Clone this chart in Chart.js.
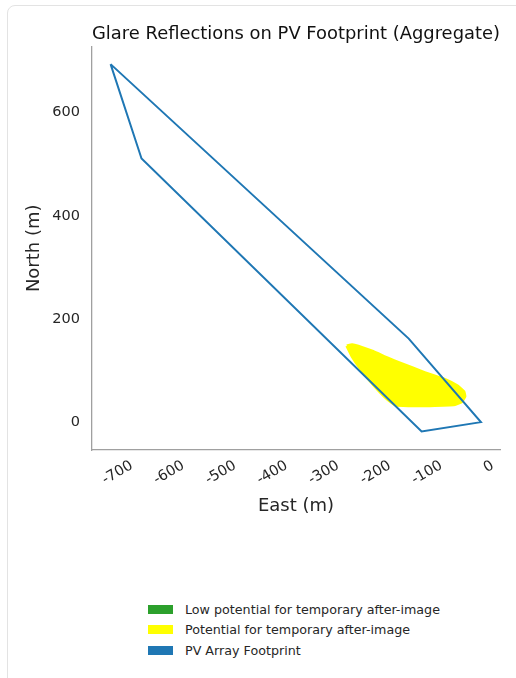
<!DOCTYPE html>
<html lang="en">
<head>
  <meta charset="UTF-8" />
  <title>Glare Reflections on PV Footprint</title>
  <script src="https://cdn.jsdelivr.net/npm/chart.js"></script>
  <style>
    body { margin: 0; background: #fff; font-family: 'DejaVu Sans', sans-serif; }
    #card {
      position: absolute; left: 7px; top: 5px; width: 530px; height: 700px;
      border: 1px solid #e3e3e3; border-radius: 8px; box-sizing: border-box;
    }
    #chartBox { position: absolute; left: 0; top: 0; }
    #legend { position: absolute; left: 148px; top: 599px; font-size: 12.7px; color: #262626; }
    #legend .row { display: flex; align-items: center; height: 20.6px; }
    #legend .box { width: 25px; height: 9px; margin-right: 12px; }
  </style>
</head>
<body>
  <div id="card"></div>
  <div id="chartBox"><canvas id="glareChart" width="516" height="540"></canvas></div>
  <div id="legend"></div>

  <script>
    // series names + colours
    const seriesNames  = ['Low potential for temporary after-image', 'Potential for temporary after-image', 'PV Array Footprint'];
    const seriesColors = ['#2ca02c', '#ffff00', '#1f77b4'];

    // PV footprint outline (East m, North m)
    const footprintEast  = [-718, -658, -115, 0, -140, -718];
    const footprintNorth = [694, 511, -18, 0, 162, 694];

    // aggregate glare patch (potential for after-image)
    const glareEast  = [-260, -250, -231, -209, -180, -155, -109, -70, -45, -33, -31, -37, -50, -99, -140, -165, -182, -208, -233, -250, -260];
    const glareNorth = [148, 150, 145, 137, 124, 114, 96, 83, 70, 59, 50, 40, 34, 32, 32, 33, 45, 72, 103, 128, 148];

    // no low-potential points in this case
    const lowEast  = [];
    const lowNorth = [];

    const xTicks = [-700, -600, -500, -400, -300, -200, -100, 0];
    const yTicks = [0, 200, 400, 600];

    const toPoints = (xs, ys) => xs.map((x, i) => ({ x, y: ys[i] }));

    Chart.defaults.font.family = "'DejaVu Sans', sans-serif";
    Chart.defaults.color = '#262626';

    const chart = new Chart(document.getElementById('glareChart'), {
      type: 'scatter',
      data: {
        datasets: [
          {
            label: seriesNames[0],
            data: toPoints(lowEast, lowNorth),
            backgroundColor: seriesColors[0],
            borderColor: seriesColors[0],
            pointRadius: 0,
          },
          {
            label: seriesNames[1],
            data: toPoints(glareEast, glareNorth),
            showLine: true,
            fill: 'shape',
            backgroundColor: seriesColors[1],
            borderColor: seriesColors[1],
            borderWidth: 3,
            borderJoinStyle: 'round',
            tension: 0.1,
            pointRadius: 0,
            order: 1,
          },
          {
            label: seriesNames[2],
            data: toPoints(footprintEast, footprintNorth),
            showLine: true,
            fill: false,
            borderColor: seriesColors[2],
            backgroundColor: seriesColors[2],
            borderWidth: 2,
            pointRadius: 0,
            order: 0,
          },
        ],
      },
      options: {
        responsive: false,
        animation: false,
        layout: { padding: { left: 0, right: 16, top: 0, bottom: 20 } },
        plugins: {
          legend: { display: false },
          tooltip: { enabled: false },
          title: {
            display: true,
            fullSize: false,
            text: 'Glare Reflections on PV Footprint (Aggregate)',
            font: { size: 18, weight: 'normal' },
            color: '#111',
            padding: { top: 24, bottom: 1 },
          },
        },
        scales: {
          x: {
            type: 'linear',
            min: -754,
            max: 37,
            afterBuildTicks: s => { s.ticks = xTicks.map(v => ({ value: v })); },
            afterFit: s => { s.height = 70; },
            grid: { display: false },
            border: { display: true, color: '#a0a0a0', width: 1.3 },
            ticks: {
              autoSkip: false,
              minRotation: 30,
              maxRotation: 30,
              padding: -1,
              labelOffset: 12,
              font: { size: 14.5 },
            },
            title: { display: true, text: 'East (m)', font: { size: 18 }, padding: { top: 4, bottom: 3 } },
          },
          y: {
            type: 'linear',
            min: -54,
            max: 728,
            afterBuildTicks: s => { s.ticks = yTicks.map(v => ({ value: v })); },
            afterFit: s => { s.width = 92; },
            grid: { display: false },
            border: { display: true, color: '#a0a0a0', width: 1.3 },
            ticks: { padding: 4, font: { size: 14.5 } },
            title: { display: true, text: 'North (m)', font: { size: 18 }, padding: { top: 24, bottom: 4 } },
          },
        },
      },
    });

    // legend stacked in one left-aligned column, like the original figure
    const legendEl = document.getElementById('legend');
    chart.data.datasets.forEach((ds, i) => {
      legendEl.insertAdjacentHTML('beforeend', `
        <div class="row"><span class="box" style="background:${seriesColors[i]}"></span>${ds.label}</div>
      `);
    });
  </script>
</body>
</html>
